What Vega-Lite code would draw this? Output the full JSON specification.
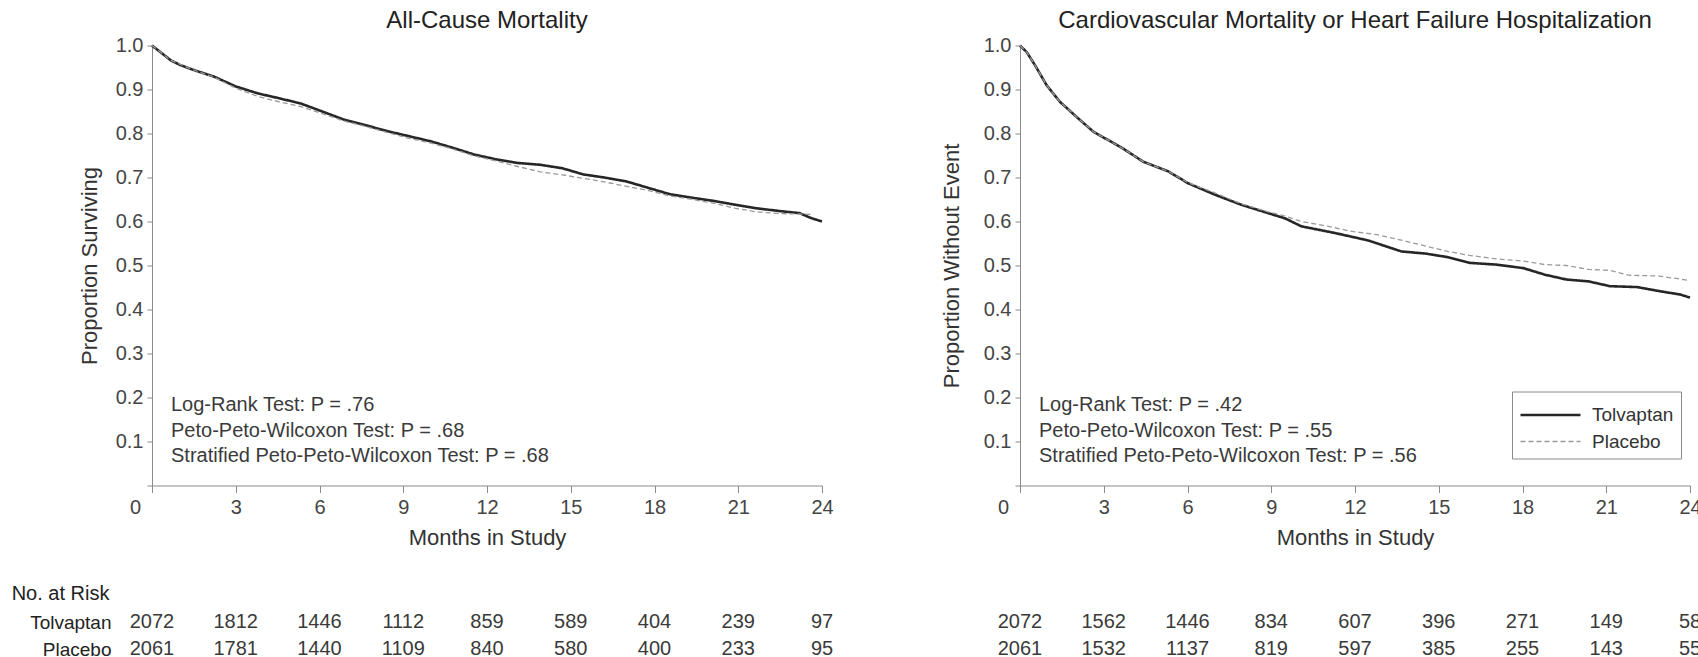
{
  "$schema": "https://vega.github.io/schema/vega-lite/v6.json",
  "background": "white",
  "padding": {"left": 11, "top": 8.5, "right": 0, "bottom": 0},
  "datasets": {
    "curves": [
      {"panel": "acm", "arm": "Tolvaptan", "month": 0, "p": 1.0},
      {"panel": "acm", "arm": "Tolvaptan", "month": 0.3, "p": 0.985},
      {"panel": "acm", "arm": "Tolvaptan", "month": 0.68, "p": 0.966},
      {"panel": "acm", "arm": "Tolvaptan", "month": 1.0, "p": 0.956},
      {"panel": "acm", "arm": "Tolvaptan", "month": 1.46, "p": 0.945},
      {"panel": "acm", "arm": "Tolvaptan", "month": 2.23, "p": 0.929},
      {"panel": "acm", "arm": "Tolvaptan", "month": 3.0, "p": 0.907},
      {"panel": "acm", "arm": "Tolvaptan", "month": 3.8, "p": 0.891},
      {"panel": "acm", "arm": "Tolvaptan", "month": 4.56, "p": 0.880},
      {"panel": "acm", "arm": "Tolvaptan", "month": 5.34, "p": 0.868},
      {"panel": "acm", "arm": "Tolvaptan", "month": 6.1, "p": 0.850},
      {"panel": "acm", "arm": "Tolvaptan", "month": 6.9, "p": 0.831},
      {"panel": "acm", "arm": "Tolvaptan", "month": 7.7, "p": 0.818},
      {"panel": "acm", "arm": "Tolvaptan", "month": 8.45, "p": 0.805},
      {"panel": "acm", "arm": "Tolvaptan", "month": 9.2, "p": 0.794},
      {"panel": "acm", "arm": "Tolvaptan", "month": 10.0, "p": 0.782},
      {"panel": "acm", "arm": "Tolvaptan", "month": 10.8, "p": 0.767},
      {"panel": "acm", "arm": "Tolvaptan", "month": 11.55, "p": 0.752},
      {"panel": "acm", "arm": "Tolvaptan", "month": 12.35, "p": 0.741},
      {"panel": "acm", "arm": "Tolvaptan", "month": 13.1, "p": 0.733},
      {"panel": "acm", "arm": "Tolvaptan", "month": 13.9, "p": 0.729},
      {"panel": "acm", "arm": "Tolvaptan", "month": 14.7, "p": 0.721},
      {"panel": "acm", "arm": "Tolvaptan", "month": 15.45, "p": 0.707},
      {"panel": "acm", "arm": "Tolvaptan", "month": 16.2, "p": 0.700},
      {"panel": "acm", "arm": "Tolvaptan", "month": 17.0, "p": 0.691},
      {"panel": "acm", "arm": "Tolvaptan", "month": 17.8, "p": 0.676},
      {"panel": "acm", "arm": "Tolvaptan", "month": 18.55, "p": 0.662},
      {"panel": "acm", "arm": "Tolvaptan", "month": 19.35, "p": 0.654},
      {"panel": "acm", "arm": "Tolvaptan", "month": 20.1, "p": 0.647},
      {"panel": "acm", "arm": "Tolvaptan", "month": 20.9, "p": 0.638},
      {"panel": "acm", "arm": "Tolvaptan", "month": 21.65, "p": 0.630},
      {"panel": "acm", "arm": "Tolvaptan", "month": 22.45, "p": 0.624},
      {"panel": "acm", "arm": "Tolvaptan", "month": 23.2, "p": 0.619},
      {"panel": "acm", "arm": "Tolvaptan", "month": 23.6, "p": 0.608},
      {"panel": "acm", "arm": "Tolvaptan", "month": 24.0, "p": 0.600},
      {"panel": "acm", "arm": "Placebo", "month": 0, "p": 1.0},
      {"panel": "acm", "arm": "Placebo", "month": 0.3, "p": 0.985},
      {"panel": "acm", "arm": "Placebo", "month": 0.68, "p": 0.966},
      {"panel": "acm", "arm": "Placebo", "month": 1.46, "p": 0.945},
      {"panel": "acm", "arm": "Placebo", "month": 2.23, "p": 0.928},
      {"panel": "acm", "arm": "Placebo", "month": 3.0, "p": 0.903},
      {"panel": "acm", "arm": "Placebo", "month": 3.8, "p": 0.884},
      {"panel": "acm", "arm": "Placebo", "month": 4.56, "p": 0.872},
      {"panel": "acm", "arm": "Placebo", "month": 5.34, "p": 0.861},
      {"panel": "acm", "arm": "Placebo", "month": 6.1, "p": 0.845},
      {"panel": "acm", "arm": "Placebo", "month": 6.9, "p": 0.828},
      {"panel": "acm", "arm": "Placebo", "month": 7.7, "p": 0.815},
      {"panel": "acm", "arm": "Placebo", "month": 8.45, "p": 0.802},
      {"panel": "acm", "arm": "Placebo", "month": 9.2, "p": 0.789},
      {"panel": "acm", "arm": "Placebo", "month": 10.0, "p": 0.778},
      {"panel": "acm", "arm": "Placebo", "month": 10.8, "p": 0.764},
      {"panel": "acm", "arm": "Placebo", "month": 11.55, "p": 0.749},
      {"panel": "acm", "arm": "Placebo", "month": 12.35, "p": 0.737},
      {"panel": "acm", "arm": "Placebo", "month": 13.1, "p": 0.725},
      {"panel": "acm", "arm": "Placebo", "month": 13.9, "p": 0.713},
      {"panel": "acm", "arm": "Placebo", "month": 14.7, "p": 0.706},
      {"panel": "acm", "arm": "Placebo", "month": 15.45, "p": 0.698},
      {"panel": "acm", "arm": "Placebo", "month": 16.2, "p": 0.690},
      {"panel": "acm", "arm": "Placebo", "month": 17.0, "p": 0.680},
      {"panel": "acm", "arm": "Placebo", "month": 17.8, "p": 0.670},
      {"panel": "acm", "arm": "Placebo", "month": 18.55, "p": 0.658},
      {"panel": "acm", "arm": "Placebo", "month": 19.35, "p": 0.650},
      {"panel": "acm", "arm": "Placebo", "month": 20.1, "p": 0.642},
      {"panel": "acm", "arm": "Placebo", "month": 20.9, "p": 0.630},
      {"panel": "acm", "arm": "Placebo", "month": 21.65, "p": 0.622},
      {"panel": "acm", "arm": "Placebo", "month": 22.45, "p": 0.618},
      {"panel": "acm", "arm": "Placebo", "month": 23.2, "p": 0.617},
      {"panel": "acm", "arm": "Placebo", "month": 23.6, "p": 0.616},
      {"panel": "cvhf", "arm": "Tolvaptan", "month": 0, "p": 1.0},
      {"panel": "cvhf", "arm": "Tolvaptan", "month": 0.24, "p": 0.985},
      {"panel": "cvhf", "arm": "Tolvaptan", "month": 0.54, "p": 0.955},
      {"panel": "cvhf", "arm": "Tolvaptan", "month": 0.95, "p": 0.910},
      {"panel": "cvhf", "arm": "Tolvaptan", "month": 1.43, "p": 0.872},
      {"panel": "cvhf", "arm": "Tolvaptan", "month": 2.09, "p": 0.834},
      {"panel": "cvhf", "arm": "Tolvaptan", "month": 2.63, "p": 0.804},
      {"panel": "cvhf", "arm": "Tolvaptan", "month": 3.16, "p": 0.785},
      {"panel": "cvhf", "arm": "Tolvaptan", "month": 3.76, "p": 0.763},
      {"panel": "cvhf", "arm": "Tolvaptan", "month": 4.41, "p": 0.736},
      {"panel": "cvhf", "arm": "Tolvaptan", "month": 5.31, "p": 0.714},
      {"panel": "cvhf", "arm": "Tolvaptan", "month": 6.02, "p": 0.687},
      {"panel": "cvhf", "arm": "Tolvaptan", "month": 6.98, "p": 0.661},
      {"panel": "cvhf", "arm": "Tolvaptan", "month": 7.93, "p": 0.638},
      {"panel": "cvhf", "arm": "Tolvaptan", "month": 8.89, "p": 0.619},
      {"panel": "cvhf", "arm": "Tolvaptan", "month": 9.5, "p": 0.607},
      {"panel": "cvhf", "arm": "Tolvaptan", "month": 10.08, "p": 0.589},
      {"panel": "cvhf", "arm": "Tolvaptan", "month": 11.27, "p": 0.574},
      {"panel": "cvhf", "arm": "Tolvaptan", "month": 12.47, "p": 0.557},
      {"panel": "cvhf", "arm": "Tolvaptan", "month": 13.66, "p": 0.532},
      {"panel": "cvhf", "arm": "Tolvaptan", "month": 14.54, "p": 0.527},
      {"panel": "cvhf", "arm": "Tolvaptan", "month": 15.32, "p": 0.519},
      {"panel": "cvhf", "arm": "Tolvaptan", "month": 16.1, "p": 0.506},
      {"panel": "cvhf", "arm": "Tolvaptan", "month": 17.07, "p": 0.502},
      {"panel": "cvhf", "arm": "Tolvaptan", "month": 18.03, "p": 0.494},
      {"panel": "cvhf", "arm": "Tolvaptan", "month": 18.81, "p": 0.479},
      {"panel": "cvhf", "arm": "Tolvaptan", "month": 19.58, "p": 0.468},
      {"panel": "cvhf", "arm": "Tolvaptan", "month": 20.36, "p": 0.464},
      {"panel": "cvhf", "arm": "Tolvaptan", "month": 21.13, "p": 0.453},
      {"panel": "cvhf", "arm": "Tolvaptan", "month": 22.1, "p": 0.451},
      {"panel": "cvhf", "arm": "Tolvaptan", "month": 22.88, "p": 0.442},
      {"panel": "cvhf", "arm": "Tolvaptan", "month": 23.65, "p": 0.434},
      {"panel": "cvhf", "arm": "Tolvaptan", "month": 24.0, "p": 0.427},
      {"panel": "cvhf", "arm": "Placebo", "month": 0, "p": 1.0},
      {"panel": "cvhf", "arm": "Placebo", "month": 0.24, "p": 0.985},
      {"panel": "cvhf", "arm": "Placebo", "month": 0.54, "p": 0.955},
      {"panel": "cvhf", "arm": "Placebo", "month": 0.95, "p": 0.910},
      {"panel": "cvhf", "arm": "Placebo", "month": 1.43, "p": 0.872},
      {"panel": "cvhf", "arm": "Placebo", "month": 2.09, "p": 0.834},
      {"panel": "cvhf", "arm": "Placebo", "month": 2.63, "p": 0.804},
      {"panel": "cvhf", "arm": "Placebo", "month": 3.16, "p": 0.785},
      {"panel": "cvhf", "arm": "Placebo", "month": 3.76, "p": 0.763},
      {"panel": "cvhf", "arm": "Placebo", "month": 4.41, "p": 0.736},
      {"panel": "cvhf", "arm": "Placebo", "month": 5.31, "p": 0.714},
      {"panel": "cvhf", "arm": "Placebo", "month": 6.02, "p": 0.688},
      {"panel": "cvhf", "arm": "Placebo", "month": 6.98, "p": 0.665},
      {"panel": "cvhf", "arm": "Placebo", "month": 7.93, "p": 0.640},
      {"panel": "cvhf", "arm": "Placebo", "month": 8.89, "p": 0.622},
      {"panel": "cvhf", "arm": "Placebo", "month": 9.5, "p": 0.612},
      {"panel": "cvhf", "arm": "Placebo", "month": 10.08, "p": 0.600},
      {"panel": "cvhf", "arm": "Placebo", "month": 11.05, "p": 0.589},
      {"panel": "cvhf", "arm": "Placebo", "month": 11.83, "p": 0.578},
      {"panel": "cvhf", "arm": "Placebo", "month": 12.8, "p": 0.570},
      {"panel": "cvhf", "arm": "Placebo", "month": 13.57, "p": 0.559},
      {"panel": "cvhf", "arm": "Placebo", "month": 14.54, "p": 0.544},
      {"panel": "cvhf", "arm": "Placebo", "month": 15.32, "p": 0.532},
      {"panel": "cvhf", "arm": "Placebo", "month": 16.1, "p": 0.523},
      {"panel": "cvhf", "arm": "Placebo", "month": 17.07, "p": 0.515},
      {"panel": "cvhf", "arm": "Placebo", "month": 18.03, "p": 0.510},
      {"panel": "cvhf", "arm": "Placebo", "month": 18.81, "p": 0.502},
      {"panel": "cvhf", "arm": "Placebo", "month": 19.58, "p": 0.500},
      {"panel": "cvhf", "arm": "Placebo", "month": 20.36, "p": 0.491},
      {"panel": "cvhf", "arm": "Placebo", "month": 21.13, "p": 0.489},
      {"panel": "cvhf", "arm": "Placebo", "month": 21.8, "p": 0.478},
      {"panel": "cvhf", "arm": "Placebo", "month": 22.88, "p": 0.476},
      {"panel": "cvhf", "arm": "Placebo", "month": 24.0, "p": 0.466}
    ],
    "stats": [
      {"panel": "acm", "lines": ["Log-Rank Test: P = .76", "Peto-Peto-Wilcoxon Test: P = .68", "Stratified Peto-Peto-Wilcoxon Test: P = .68"]},
      {"panel": "cvhf", "lines": ["Log-Rank Test: P = .42", "Peto-Peto-Wilcoxon Test: P = .55", "Stratified Peto-Peto-Wilcoxon Test: P = .56"]}
    ],
    "risk": [
      {"panel": "acm", "arm": "Tolvaptan", "month": 0, "n": "2072"},
      {"panel": "acm", "arm": "Tolvaptan", "month": 3, "n": "1812"},
      {"panel": "acm", "arm": "Tolvaptan", "month": 6, "n": "1446"},
      {"panel": "acm", "arm": "Tolvaptan", "month": 9, "n": "1112"},
      {"panel": "acm", "arm": "Tolvaptan", "month": 12, "n": "859"},
      {"panel": "acm", "arm": "Tolvaptan", "month": 15, "n": "589"},
      {"panel": "acm", "arm": "Tolvaptan", "month": 18, "n": "404"},
      {"panel": "acm", "arm": "Tolvaptan", "month": 21, "n": "239"},
      {"panel": "acm", "arm": "Tolvaptan", "month": 24, "n": "97"},
      {"panel": "acm", "arm": "Placebo", "month": 0, "n": "2061"},
      {"panel": "acm", "arm": "Placebo", "month": 3, "n": "1781"},
      {"panel": "acm", "arm": "Placebo", "month": 6, "n": "1440"},
      {"panel": "acm", "arm": "Placebo", "month": 9, "n": "1109"},
      {"panel": "acm", "arm": "Placebo", "month": 12, "n": "840"},
      {"panel": "acm", "arm": "Placebo", "month": 15, "n": "580"},
      {"panel": "acm", "arm": "Placebo", "month": 18, "n": "400"},
      {"panel": "acm", "arm": "Placebo", "month": 21, "n": "233"},
      {"panel": "acm", "arm": "Placebo", "month": 24, "n": "95"},
      {"panel": "cvhf", "arm": "Tolvaptan", "month": 0, "n": "2072"},
      {"panel": "cvhf", "arm": "Tolvaptan", "month": 3, "n": "1562"},
      {"panel": "cvhf", "arm": "Tolvaptan", "month": 6, "n": "1446"},
      {"panel": "cvhf", "arm": "Tolvaptan", "month": 9, "n": "834"},
      {"panel": "cvhf", "arm": "Tolvaptan", "month": 12, "n": "607"},
      {"panel": "cvhf", "arm": "Tolvaptan", "month": 15, "n": "396"},
      {"panel": "cvhf", "arm": "Tolvaptan", "month": 18, "n": "271"},
      {"panel": "cvhf", "arm": "Tolvaptan", "month": 21, "n": "149"},
      {"panel": "cvhf", "arm": "Tolvaptan", "month": 24, "n": "58"},
      {"panel": "cvhf", "arm": "Placebo", "month": 0, "n": "2061"},
      {"panel": "cvhf", "arm": "Placebo", "month": 3, "n": "1532"},
      {"panel": "cvhf", "arm": "Placebo", "month": 6, "n": "1137"},
      {"panel": "cvhf", "arm": "Placebo", "month": 9, "n": "819"},
      {"panel": "cvhf", "arm": "Placebo", "month": 12, "n": "597"},
      {"panel": "cvhf", "arm": "Placebo", "month": 15, "n": "385"},
      {"panel": "cvhf", "arm": "Placebo", "month": 18, "n": "255"},
      {"panel": "cvhf", "arm": "Placebo", "month": 21, "n": "143"},
      {"panel": "cvhf", "arm": "Placebo", "month": 24, "n": "55"}
    ]
  },
  "columns": 2,
  "spacing": {"column": 106, "row": 35},
  "concat": [
    {
      "width": 670,
      "height": 440,
      "title": "All-Cause Mortality",
      "layer": [
        {
          "data": {"name": "curves"},
          "transform": [{"filter": "datum.panel == 'acm'"}],
          "mark": {"type": "line", "interpolate": "linear"},
          "encoding": {
            "x": {
              "field": "month", "type": "quantitative",
              "scale": {"domain": [0, 24], "nice": false},
              "axis": {
                "title": "Months in Study",
                "values": [0, 3, 6, 9, 12, 15, 18, 21, 24],
                "labelOffset": {"condition": {"test": "datum.value == 0", "value": -17}, "value": 0}
              }
            },
            "y": {
              "field": "p", "type": "quantitative",
              "scale": {"domain": [0, 1], "nice": false},
              "axis": {
                "title": "Proportion Surviving",
                "values": [0, 0.1, 0.2, 0.3, 0.4, 0.5, 0.6, 0.7, 0.8, 0.9, 1],
                "labelExpr": "datum.value == 0 ? '' : format(datum.value, '.1f')"
              }
            },
            "color": {"field": "arm", "type": "nominal", "scale": {"domain": ["Tolvaptan", "Placebo"], "range": ["#262626", "#9a9a9a"]}, "legend": null},
            "strokeDash": {"field": "arm", "type": "nominal", "scale": {"domain": ["Tolvaptan", "Placebo"], "range": [[1, 0], [5, 3]]}, "legend": null},
            "strokeWidth": {"field": "arm", "type": "nominal", "scale": {"domain": ["Tolvaptan", "Placebo"], "range": [2.6, 1.3]}, "legend": null},
            "order": {"field": "month", "type": "quantitative"}
          }
        },
        {
          "data": {"name": "stats"},
          "transform": [{"filter": "datum.panel == 'acm'"}],
          "mark": {"type": "text", "align": "left", "baseline": "top", "fontSize": 20, "lineHeight": 25.5, "color": "#3a3a3a"},
          "encoding": {
            "x": {"datum": 0.68},
            "y": {"datum": 0.205},
            "text": {"field": "lines"}
          }
        }
      ]
    },
    {
      "width": 670,
      "height": 440,
      "title": "Cardiovascular Mortality or Heart Failure Hospitalization",
      "layer": [
        {
          "data": {"name": "curves"},
          "transform": [{"filter": "datum.panel == 'cvhf'"}],
          "mark": {"type": "line", "interpolate": "linear"},
          "encoding": {
            "x": {
              "field": "month", "type": "quantitative",
              "scale": {"domain": [0, 24], "nice": false},
              "axis": {
                "title": "Months in Study",
                "values": [0, 3, 6, 9, 12, 15, 18, 21, 24],
                "labelOffset": {"condition": {"test": "datum.value == 0", "value": -17}, "value": 0}
              }
            },
            "y": {
              "field": "p", "type": "quantitative",
              "scale": {"domain": [0, 1], "nice": false},
              "axis": {
                "title": "Proportion Without Event",
                "titlePadding": 19.5,
                "values": [0, 0.1, 0.2, 0.3, 0.4, 0.5, 0.6, 0.7, 0.8, 0.9, 1],
                "labelExpr": "datum.value == 0 ? '' : format(datum.value, '.1f')"
              }
            },
            "color": {"field": "arm", "type": "nominal", "scale": {"domain": ["Tolvaptan", "Placebo"], "range": ["#262626", "#9a9a9a"]},
              "legend": {"orient": "none", "legendX": 492, "legendY": 346, "title": null, "strokeColor": "#8a8a8a", "padding": 7, "symbolType": "M-1,0H3", "symbolSize": 900, "labelFontSize": 19, "labelOffset": 40, "rowPadding": 0, "labelColor": "#333"}},
            "strokeDash": {"field": "arm", "type": "nominal", "scale": {"domain": ["Tolvaptan", "Placebo"], "range": [[1, 0], [5, 3]]},
              "legend": {"orient": "none", "legendX": 492, "legendY": 346, "title": null, "strokeColor": "#8a8a8a", "padding": 7, "symbolType": "M-1,0H3", "symbolSize": 900, "labelFontSize": 19, "labelOffset": 40, "rowPadding": 0, "labelColor": "#333"}},
            "strokeWidth": {"field": "arm", "type": "nominal", "scale": {"domain": ["Tolvaptan", "Placebo"], "range": [2.6, 1.3]},
              "legend": {"orient": "none", "legendX": 492, "legendY": 346, "title": null, "strokeColor": "#8a8a8a", "padding": 7, "symbolType": "M-1,0H3", "symbolSize": 900, "labelFontSize": 19, "labelOffset": 40, "rowPadding": 0, "labelColor": "#333"}},
            "order": {"field": "month", "type": "quantitative"}
          }
        },
        {
          "data": {"name": "stats"},
          "transform": [{"filter": "datum.panel == 'cvhf'"}],
          "mark": {"type": "text", "align": "left", "baseline": "top", "fontSize": 20, "lineHeight": 25.5, "color": "#3a3a3a"},
          "encoding": {
            "x": {"datum": 0.68},
            "y": {"datum": 0.205},
            "text": {"field": "lines"}
          }
        }
      ]
    },
    {
      "width": 670,
      "height": 54,
      "title": {"text": "No. at Risk", "anchor": "start", "frame": "bounds", "dx": -18, "fontSize": 20, "color": "#222", "offset": 5},
      "data": {"name": "risk"},
      "transform": [{"filter": "datum.panel == 'acm'"}],
      "mark": {"type": "text", "fontSize": 20, "color": "#3a3a3a"},
      "encoding": {
        "x": {"field": "month", "type": "quantitative", "scale": {"domain": [0, 24], "nice": false}, "axis": null},
        "y": {"field": "arm", "type": "nominal", "scale": {"domain": ["Tolvaptan", "Placebo"], "paddingInner": 0, "paddingOuter": 0},
          "axis": {"title": null, "domain": false, "ticks": false, "labelPadding": 41, "labelFontSize": 19, "labelColor": "#222"}},
        "text": {"field": "n", "type": "nominal"}
      }
    },
    {
      "width": 670,
      "height": 54,
      "data": {"name": "risk"},
      "transform": [{"filter": "datum.panel == 'cvhf'"}],
      "mark": {"type": "text", "fontSize": 20, "color": "#3a3a3a"},
      "encoding": {
        "x": {"field": "month", "type": "quantitative", "scale": {"domain": [0, 24], "nice": false}, "axis": null},
        "y": {"field": "arm", "type": "nominal", "scale": {"domain": ["Tolvaptan", "Placebo"], "paddingInner": 0, "paddingOuter": 0}, "axis": null},
        "text": {"field": "n", "type": "nominal"}
      }
    }
  ],
  "resolve": {
    "scale": {"color": "independent", "strokeDash": "independent", "strokeWidth": "independent"},
    "legend": {"color": "independent", "strokeDash": "independent", "strokeWidth": "independent"}
  },
  "config": {
    "font": "Liberation Sans",
    "view": {"stroke": null},
    "axis": {
      "grid": false,
      "domainColor": "#8a8a8a",
      "tickColor": "#8a8a8a",
      "labelColor": "#444444",
      "titleColor": "#333333",
      "labelFontSize": 20,
      "titleFontSize": 22,
      "titleFontWeight": "normal",
      "labelFlush": false,
      "labelOverlap": false
    },
    "axisX": {"tickSize": 7, "labelPadding": 5, "titlePadding": 10},
    "axisY": {"tickSize": 5, "labelPadding": 4, "titlePadding": 14},
    "title": {"fontSize": 24, "fontWeight": "normal", "color": "#222222", "offset": 3}
  }
}
